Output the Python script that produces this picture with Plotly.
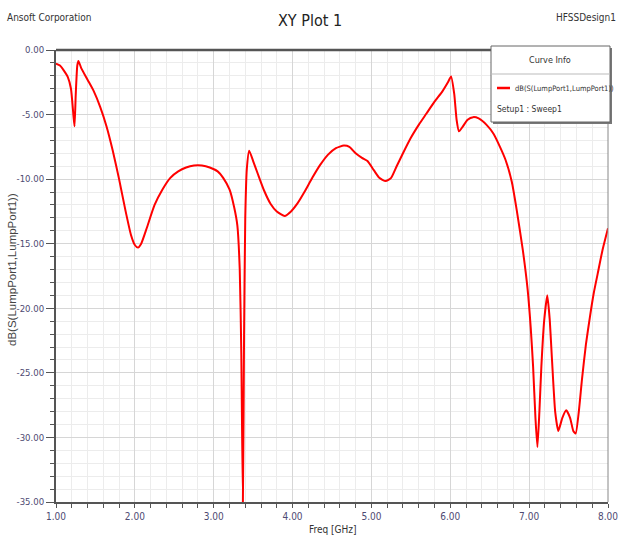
import plotly.graph_objects as go

# ---- data ----
freq_ghz = [1.00, 1.05, 1.10, 1.15, 1.19, 1.22, 1.235, 1.25, 1.27, 1.285, 1.32, 1.40, 1.48, 1.56, 1.64,
            1.72, 1.80, 1.88, 1.95, 2.00, 2.04, 2.08, 2.15, 2.25, 2.35, 2.45, 2.55, 2.65, 2.75, 2.85,
            2.95, 3.05, 3.12, 3.20, 3.26, 3.30, 3.33, 3.35, 3.37, 3.385, 3.40, 3.42, 3.45, 3.50, 3.56,
            3.64, 3.72, 3.80, 3.90, 3.98, 4.06, 4.15, 4.25, 4.35, 4.45, 4.55, 4.65, 4.72, 4.80, 4.88,
            4.95, 5.03, 5.10, 5.18, 5.25, 5.32, 5.40, 5.50, 5.60, 5.70, 5.80, 5.90, 5.97, 6.01, 6.05,
            6.08, 6.11, 6.15, 6.22, 6.29, 6.36, 6.46, 6.55, 6.63, 6.70, 6.78, 6.84, 6.92, 6.98, 7.02,
            7.05, 7.08, 7.105, 7.13, 7.155, 7.19, 7.23, 7.26, 7.29, 7.33, 7.37, 7.42, 7.47, 7.52, 7.56,
            7.59, 7.63, 7.67, 7.72, 7.77, 7.82, 7.87, 7.93, 8.00]
s11_db = [-1.05, -1.2, -1.6, -2.1, -3.0, -5.0, -5.9, -3.5, -1.2, -0.85, -1.4, -2.3, -3.2, -4.4, -5.9,
          -7.8, -10.0, -12.4, -14.3, -15.1, -15.3, -15.0, -13.8, -12.0, -10.8, -9.9, -9.4, -9.1, -8.95, -8.95,
          -9.1, -9.4, -9.9, -10.8, -12.2, -13.6, -17.0, -23.5, -35.0, -22.0, -13.0, -9.2, -7.8, -8.6, -9.6,
          -10.9, -11.9, -12.5, -12.85, -12.5, -11.9, -11.0, -9.9, -8.9, -8.1, -7.6, -7.4, -7.5, -8.0, -8.35,
          -8.6, -9.3, -9.9, -10.15, -9.9, -9.0, -8.0, -6.8, -5.8, -4.9, -4.0, -3.2, -2.5, -2.05, -3.4,
          -5.4, -6.3, -6.0, -5.4, -5.2, -5.3, -5.8, -6.5, -7.5, -8.5, -10.2, -12.3, -15.5, -18.5, -21.5,
          -24.5, -28.5, -30.75, -28.0, -24.5, -21.0, -19.0, -20.8, -24.0, -28.0, -29.5, -28.5, -27.9, -28.5, -29.5,
          -29.7, -28.0, -25.5, -22.8, -20.7, -18.8, -17.3, -15.5, -13.8]

x_tick_vals = [1, 2, 3, 4, 5, 6, 7, 8]
x_tick_text = ["1.00", "2.00", "3.00", "4.00", "5.00", "6.00", "7.00", "8.00"]
y_tick_vals = [0, -5, -10, -15, -20, -25, -30, -35]
y_tick_text = ["0.00", "-5.00", "-10.00", "-15.00", "-20.00", "-25.00", "-30.00", "-35.00"]

trace_name = "dB(S(LumpPort1,LumpPort1))"
setup_name = "Setup1 : Sweep1"

W, H = 624, 540
L, R, T, B = 56, 16, 50, 38
PW, PH = W - L - R, H - T - B


def px(x):
    return (x - L) / PW


def py(y):
    return (H - B - y) / PH


NARROW = "DejaVu Sans Condensed, Liberation Sans Narrow, Arial Narrow, sans-serif"
TICKCOL = "#4e4a72"

fig = go.Figure()
fig.add_trace(go.Scatter(x=freq_ghz, y=s11_db, mode="lines", name=trace_name,
                         line=dict(color="#ff0000", width=2, shape="spline", smoothing=0.5),
                         showlegend=False))

fig.update_layout(
    width=W, height=H,
    margin=dict(l=L, r=R, t=T, b=B, autoexpand=False),
    paper_bgcolor="white", plot_bgcolor="white",
    font=dict(family=NARROW, size=10, color="#333"),
    xaxis=dict(range=[1, 8], tickvals=x_tick_vals, ticktext=x_tick_text,
               showgrid=True, gridcolor="#d6d6d6", gridwidth=1,
               ticks="outside", ticklen=4, tickcolor="#555", tickwidth=1,
               minor=dict(dtick=0.2, tick0=1, showgrid=True, gridcolor="#ececec", gridwidth=1,
                          ticks="outside", ticklen=4, tickcolor="#555"),
               showline=True, linecolor="#555", linewidth=2, zeroline=False, automargin=False,
               tickfont=dict(family=NARROW, size=10, color=TICKCOL)),
    yaxis=dict(range=[-35, 0], tickvals=y_tick_vals, ticktext=y_tick_text,
               showgrid=True, gridcolor="#d6d6d6", gridwidth=1,
               ticks="outside", ticklen=8, tickcolor="#555", tickwidth=1,
               minor=dict(dtick=1, tick0=0, showgrid=True, gridcolor="#ececec", gridwidth=1,
                          ticks="outside", ticklen=4, tickcolor="#555"),
               showline=True, linecolor="#555", linewidth=2, zeroline=False, automargin=False,
               tickfont=dict(family=NARROW, size=9.5, color=TICKCOL)),
)

# plot border: thick top, thin right
fig.add_shape(type="line", xref="paper", yref="paper", x0=0, x1=1, y0=1, y1=1,
              line=dict(color="#555", width=2.5))
fig.add_shape(type="line", xref="paper", yref="paper", x0=1, x1=1, y0=0, y1=1,
              line=dict(color="#888", width=1))

# legend box ("Curve Info") with shadow
fig.add_shape(type="rect", xref="paper", yref="paper",
              x0=px(493), x1=px(612), y0=py(124), y1=py(48),
              line=dict(width=0), fillcolor="#777", layer="above")
fig.add_shape(type="rect", xref="paper", yref="paper",
              x0=px(491), x1=px(610), y0=py(122), y1=py(46),
              line=dict(color="#666", width=1), fillcolor="white", layer="above")
fig.add_shape(type="line", xref="paper", yref="paper",
              x0=px(491), x1=px(610), y0=py(74), y1=py(74),
              line=dict(color="#bbb", width=1), layer="above")
fig.add_shape(type="line", xref="paper", yref="paper",
              x0=px(497), x1=px(510), y0=py(88), y1=py(88),
              line=dict(color="#ff0000", width=2.5), layer="above")

annos = [
    dict(text="Curve Info", x=px(550), y=py(60), xanchor="center", yanchor="middle",
         font=dict(family=NARROW, size=9, color="#333")),
    dict(text=trace_name, x=px(513), y=py(88), xanchor="left", yanchor="middle",
         font=dict(family=NARROW, size=7.5, color="#333")),
    dict(text=setup_name, x=px(495), y=py(109), xanchor="left", yanchor="middle",
         font=dict(family=NARROW, size=8.5, color="#333")),
    dict(text="Ansoft Corporation", x=px(5), y=py(18), xanchor="left", yanchor="middle",
         font=dict(family=NARROW, size=10, color="#333")),
    dict(text="XY Plot 1", x=px(310), y=py(20), xanchor="center", yanchor="middle",
         font=dict(family=NARROW, size=16, color="#222")),
    dict(text="HFSSDesign1", x=px(618), y=py(18), xanchor="right", yanchor="middle",
         font=dict(family=NARROW, size=10, color="#333")),
    dict(text="dB(S(LumpPort1,LumpPort1))", x=px(12), y=py(270), xanchor="center", yanchor="middle",
         textangle=-90, font=dict(family="Liberation Sans, Arial, sans-serif", size=11.5, color="#444")),
    dict(text="Freq [GHz]", x=px(333), y=py(529), xanchor="center", yanchor="middle",
         font=dict(family=NARROW, size=10, color="#333")),
]
for a in annos:
    a.update(xref="paper", yref="paper", showarrow=False)
    fig.add_annotation(**a)

fig.write_html("out.html", config={"displayModeBar": False},
               post_script="document.body.style.margin='0';document.body.style.overflow='hidden';")
